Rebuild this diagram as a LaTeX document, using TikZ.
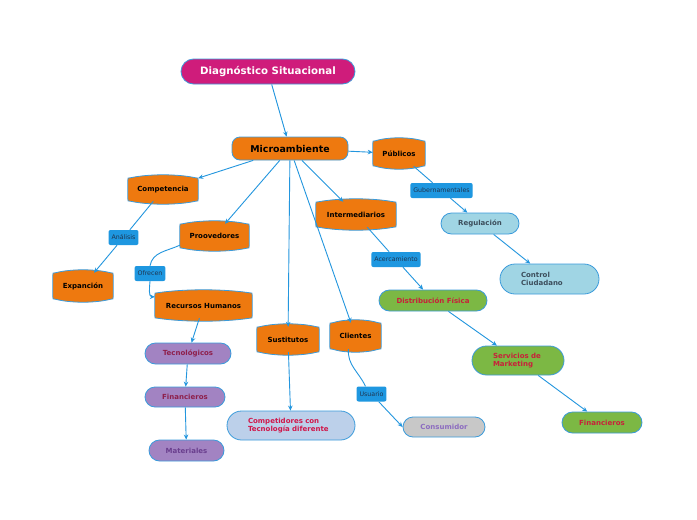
\documentclass[tikz,border=0pt]{standalone}
\usepackage{fontspec}
\setmainfont{DejaVu Sans}
\usetikzlibrary{arrows.meta,shapes.misc,backgrounds,calc}
\definecolor{magentaC}{HTML}{CF1C7B}
\definecolor{orangeC}{HTML}{EE790F}
\definecolor{edgeC}{HTML}{3B9BDB}
\definecolor{connC}{HTML}{2396DE}
\definecolor{greenC}{HTML}{7CB844}
\definecolor{lblueC}{HTML}{A0D5E4}
\definecolor{purpleC}{HTML}{A283C2}
\definecolor{grayC}{HTML}{C8C8C8}
\definecolor{compC}{HTML}{BCD0EA}
\definecolor{lblC}{HTML}{1E97E0}
\definecolor{lbltxt}{HTML}{1F3550}
\definecolor{redtxt}{HTML}{C8203A}
\definecolor{maroontxt}{HTML}{8E1F4B}
\definecolor{mattxt}{HTML}{6A3F8E}
\definecolor{constxt}{HTML}{8C6CC0}
\definecolor{slatetxt}{HTML}{3C4E5C}
\definecolor{crimsontxt}{HTML}{D0174A}
\tikzset{
  base/.style={inner sep=1pt, font=\fontsize{7}{8.6}\selectfont\bfseries, align=center},
  barrelnode/.style={base, text=black},
  pill/.style={base, rounded rectangle, draw=edgeC, line width=0.8pt},
  lbl/.style={rectangle, rounded corners=2pt, fill=lblC, text=lbltxt,
    font=\fontsize{6.3}{7}\selectfont, inner xsep=3pt, inner ysep=0pt, minimum height=15pt},
  conn/.style={draw=connC, line width=0.9pt},
  arr/.style={conn, -{Stealth[length=5pt,width=4.5pt]}}
}
\newcommand{\barreldraw}[1]{%
  \path[fill=orangeC, draw=edgeC, line width=0.8pt]
    ([xshift=2.5pt]#1.north west)
      .. controls ([yshift=4pt]$(#1.north west)!0.3!(#1.north east)$) and ([yshift=4pt]$(#1.north west)!0.7!(#1.north east)$) .. ([xshift=-2.5pt]#1.north east)
      .. controls (#1.north east) .. ([yshift=-2.5pt]#1.north east)
    -- ([yshift=2.5pt]#1.south east)
      .. controls (#1.south east) .. ([xshift=-2.5pt]#1.south east)
      .. controls ([yshift=-4pt]$(#1.south west)!0.7!(#1.south east)$) and ([yshift=-4pt]$(#1.south west)!0.3!(#1.south east)$) .. ([xshift=2.5pt]#1.south west)
      .. controls (#1.south west) .. ([yshift=2.5pt]#1.south west)
    -- ([yshift=-2.5pt]#1.north west)
      .. controls (#1.north west) .. ([xshift=2.5pt]#1.north west) -- cycle;}
\begin{document}
\begin{tikzpicture}[x=1pt,y=-1pt]
\useasboundingbox (0,0) rectangle (697,520);

% main nodes
\node[pill, fill=magentaC, text=white, font=\fontsize{10.2}{12}\selectfont\bfseries,
  minimum width=176pt, minimum height=25pt] (diag) at (268,71.5) {Diagnóstico Situacional};
\node[base, rectangle, rounded corners=8pt, fill=orangeC, draw=edgeC, line width=0.8pt,
  font=\fontsize{9.4}{11}\selectfont\bfseries, minimum width=116pt, minimum height=23pt] (micro) at (290,148.5) {Microambiente};

% barrel nodes
\node[barrelnode, minimum width=52pt, minimum height=25pt] (pub) at (399,153.5) {Públicos};
\node[barrelnode, minimum width=70pt, minimum height=23pt] (comp) at (163,189.5) {Competencia};
\node[barrelnode, minimum width=69pt, minimum height=24pt] (prov) at (214.5,236) {Proovedores};
\node[barrelnode, minimum width=80pt, minimum height=25pt] (inter) at (356,214.5) {Intermediarios};
\node[barrelnode, minimum width=60pt, minimum height=26pt] (exp) at (83,286) {Expanción};
\node[barrelnode, minimum width=97pt, minimum height=25pt] (rh) at (203.5,305.5) {Recursos Humanos};
\node[barrelnode, minimum width=62pt, minimum height=25pt] (sust) at (288,339.5) {Sustitutos};
\node[barrelnode, minimum width=51pt, minimum height=26pt] (cli) at (355.5,336) {Clientes};

\begin{scope}[on background layer]
  \fill[white] (0,0) rectangle (697,520);
  \barreldraw{pub}
  \barreldraw{comp}
  \barreldraw{prov}
  \barreldraw{inter}
  \barreldraw{exp}
  \barreldraw{rh}
  \barreldraw{sust}
  \barreldraw{cli}
\end{scope}

% labels
\node[lbl] (gub) at (441.5,190.5) {Gubernamentales};
\node[lbl] (ana) at (123.5,237.5) {Análisis};
\node[lbl] (ofr) at (150,273.5) {Ofrecen};
\node[lbl] (ace) at (396,259.5) {Acercamiento};
\node[lbl] (usu) at (371.5,394) {Usuario};

% pills
\node[pill, fill=lblueC, text=slatetxt, minimum width=80pt, minimum height=21pt] (reg) at (480,223.5) {Regulación};
\node[pill, fill=lblueC, text=slatetxt, minimum width=101pt, minimum height=30pt, text width=57pt, align=left] (ctrl) at (549.5,279) {Control\\Ciudadano};
\node[pill, fill=greenC, text=redtxt, minimum width=110pt, minimum height=21pt] (dist) at (433,300.5) {Distribución Física};
\node[pill, fill=greenC, text=redtxt, minimum width=94pt, minimum height=29pt, text width=50pt, align=left] (serv) at (518,360.5) {Servicios de\\Marketing};
\node[pill, fill=greenC, text=redtxt, minimum width=82pt, minimum height=21pt] (fing) at (602,422.5) {Financieros};
\node[pill, fill=purpleC, text=maroontxt, minimum width=88pt, minimum height=21pt] (tec) at (188,353.5) {Tecnológicos};
\node[pill, fill=purpleC, text=maroontxt, minimum width=82pt, minimum height=20pt] (finp) at (185,397) {Financieros};
\node[pill, fill=purpleC, text=mattxt, minimum width=77pt, minimum height=21pt] (mat) at (186.5,450.5) {Materiales};
\node[pill, fill=compC, text=crimsontxt, minimum width=130pt, minimum height=29pt, text width=86pt, align=left] (compet) at (291,425.5) {Competidores con\\Tecnología diferente};
\node[pill, fill=grayC, text=constxt, minimum width=84pt, minimum height=20pt] (cons) at (444,427) {Consumidor};

% connectors
\draw[arr] (diag) -- (micro);
\draw[arr] (micro) -- (pub);
\draw[arr] (micro) -- (comp);
\draw[arr] (micro) -- (prov);
\draw[arr] (micro) -- (inter);
\draw[arr] (micro) -- (sust);
\draw[arr] (micro) -- (cli);
\draw[conn] (pub) -- (gub);
\draw[arr] (gub) -- (reg);
\draw[arr] (reg) -- (ctrl);
\draw[conn] (comp) -- (ana);
\draw[arr] (ana) -- (exp);
\draw[conn] ([yshift=3pt]prov.south west) to[out=205,in=80] (ofr.north);
\draw[arr] (ofr.south) to[out=-95,in=180] ([yshift=-4pt]rh.north west);
\draw[conn] (inter) -- (ace);
\draw[arr] (ace) -- (dist);
\draw[arr] (dist) -- (serv);
\draw[arr] (serv) -- (fing);
\draw[arr] (rh) -- (tec);
\draw[arr] (tec) -- (finp);
\draw[arr] (finp) -- (mat);
\draw[arr] (sust) -- (compet);
\draw[conn] ([xshift=-7pt]cli.south) to[out=-95,in=115] ([xshift=-6pt]usu.north);
\draw[arr] (usu) -- (cons.west);
\end{tikzpicture}
\end{document}
